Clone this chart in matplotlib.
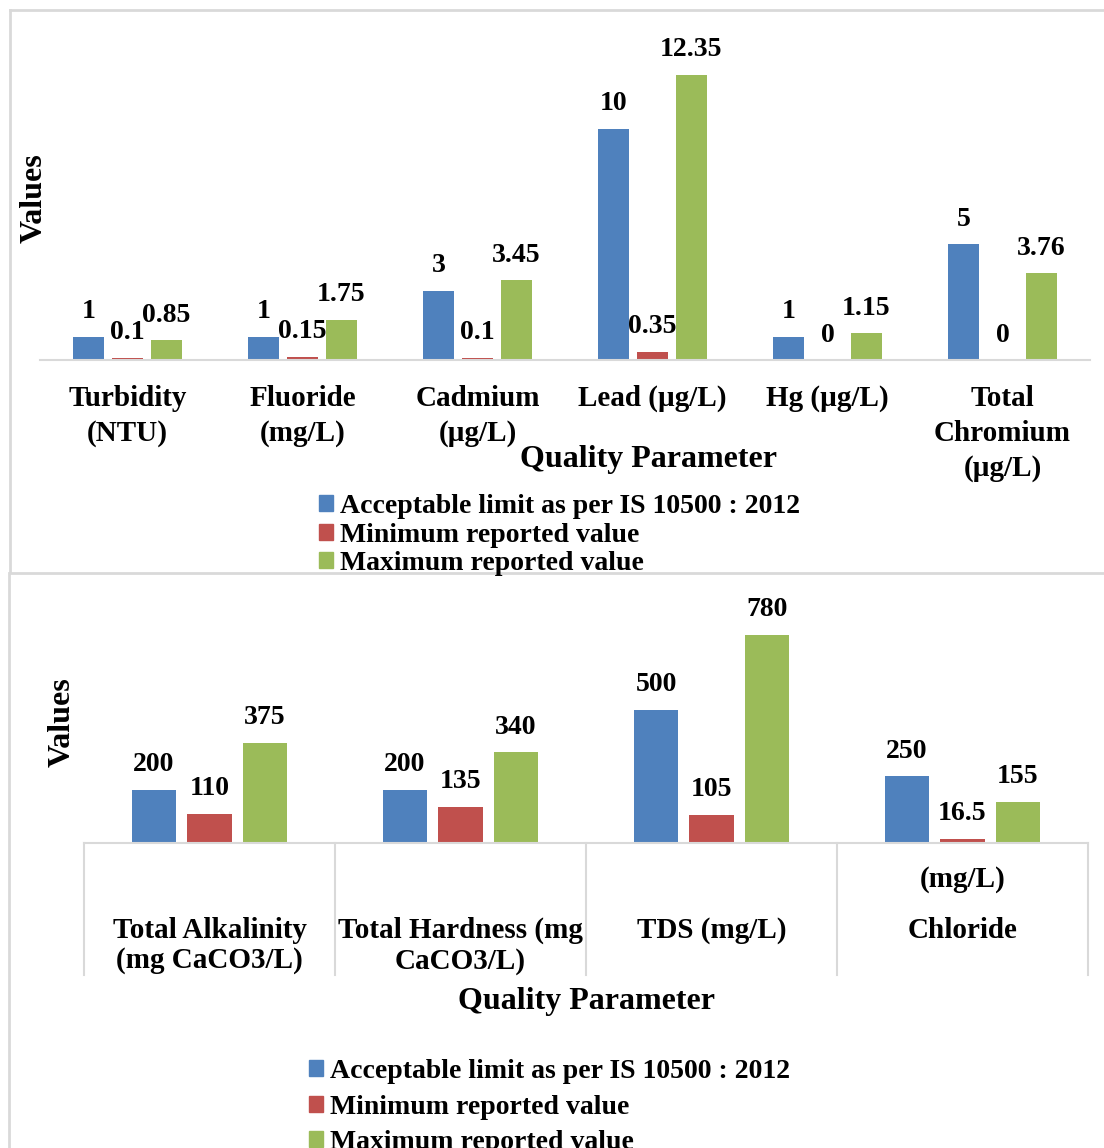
import matplotlib
matplotlib.use("Agg")
import matplotlib.pyplot as plt
from matplotlib.lines import Line2D
from matplotlib.patches import Patch
import numpy as np

plt.rcParams['font.family'] = ['Liberation Serif', 'DejaVu Serif']
plt.rcParams['font.weight'] = 'bold'

# top chart: trace metals and physical parameters
params_top = ['Turbidity\n(NTU)', 'Fluoride\n(mg/L)', 'Cadmium\n(µg/L)', 'Lead (µg/L)',
              'Hg (µg/L)', 'Total\nChromium\n(µg/L)']
limit_top = [1, 1, 3, 10, 1, 5]
min_top = [0.1, 0.15, 0.1, 0.35, 0, 0]
max_top = [0.85, 1.75, 3.45, 12.35, 1.15, 3.76]

# bottom chart: major ions / bulk parameters
params_bot = ['Total Alkalinity\n(mg CaCO3/L)', 'Total Hardness (mg\nCaCO3/L)', 'TDS (mg/L)', 'Chloride']
limit_bot = [200, 200, 500, 250]
min_bot = [110, 135, 105, 16.5]
max_bot = [375, 340, 780, 155]

series_names = ['Acceptable limit as per IS 10500 : 2012', 'Minimum reported value', 'Maximum reported value']
colors = ['#4F81BD', '#C0504D', '#9BBB59']
grid_c = '#d9d9d9'

W, H = 1104, 1148
fig = plt.figure(figsize=(W / 100, H / 100), dpi=100)

def fx(px):
    return px / W

def fy(py):
    return 1 - py / H

FS_VAL = 20    # data labels
FS_CAT = 21    # category labels
FS_LEG = 20
FS_TTL = 23    # axis titles
bw = 0.177
offs = [-0.221, 0, 0.221]

def draw_bars(ax, series, lab_off):
    x = np.arange(len(series[0]))
    for s, vals in enumerate(series):
        bars = ax.bar(x + offs[s], vals, width=bw, color=colors[s], linewidth=0)
        for b, v in zip(bars, vals):
            ax.annotate(f'{v:g}', (b.get_x() + b.get_width() / 2, v), xytext=(0, lab_off),
                        textcoords='offset pixels', ha='center', va='center', fontsize=FS_VAL)
    for sp in ['left', 'right', 'top']:
        ax.spines[sp].set_visible(False)
    ax.spines['bottom'].set_color(grid_c)
    ax.spines['bottom'].set_linewidth(1.5)
    ax.set_yticks([])
    ax.tick_params(axis='x', length=0)

handles = [Patch(color=c) for c in colors]

# ---- top chart
ax1 = fig.add_axes([fx(40), fy(360), fx(1050), 14 * 23.1 / H])
draw_bars(ax1, [limit_top, min_top, max_top], 25)
ax1.set_xlim(-0.5, 5.5)
ax1.set_ylim(0, 14)
ax1.set_xticks([])
tr1 = ax1.get_xaxis_transform()
px1 = 1 / (14 * 23.1)
for i, lab in enumerate(params_top):
    ax1.text(i, -25 * px1, lab, transform=tr1, ha='center', va='top',
             fontsize=FS_CAT, linespacing=1.38)
fig.text(fx(648), fy(460), 'Quality Parameter', ha='center', va='center', fontsize=FS_TTL)
fig.text(fx(34), fy(198), 'Values', ha='center', va='center', rotation=90, fontsize=FS_TTL)
fig.legend(handles, series_names, loc='center left', bbox_to_anchor=(fx(319), fy(535)),
           frameon=False, fontsize=FS_LEG, handlelength=0.5, handleheight=0.5, handletextpad=0.25,
           labelspacing=0.12, borderaxespad=0, borderpad=0)

# ---- bottom chart
ax2 = fig.add_axes([fx(84), fy(843), fx(1004), 900 * 0.2667 / H])
draw_bars(ax2, [limit_bot, min_bot, max_bot], 25)
ax2.set_xlim(-0.5, 3.5)
ax2.set_ylim(0, 900)
ax2.set_xticks([])
tr2 = ax2.get_xaxis_transform()
px2 = 1 / (900 * 0.2667)
# category divider lines below the axis
for b in np.arange(-0.5, 4, 1):
    ax2.plot([b, b], [0, -132 * px2], transform=tr2, color=grid_c, lw=1.5, clip_on=False)
for i, lab in enumerate(params_bot):
    ax2.text(i, -74 * px2, lab, transform=tr2, ha='center', va='top',
             fontsize=FS_CAT, linespacing=1.15)
ax2.text(3, -23 * px2, '(mg/L)', transform=tr2, ha='center', va='top', fontsize=FS_CAT)
fig.text(fx(587), fy(1001), 'Quality Parameter', ha='center', va='center', fontsize=FS_TTL)
fig.text(fx(62), fy(722), 'Values', ha='center', va='center', rotation=90, fontsize=FS_TTL)
fig.legend(handles, series_names, loc='center left', bbox_to_anchor=(fx(309), fy(1107)),
           frameon=False, fontsize=FS_LEG, handlelength=0.5, handleheight=0.5, handletextpad=0.25,
           labelspacing=0.38, borderaxespad=0, borderpad=0)

# panel frames
for xs, ys in [([fx(10), 1], [fy(10), fy(10)]), ([fx(10), fx(10)], [fy(10), fy(572)]),
               ([fx(10), 1], [fy(573), fy(573)]), ([fx(9), fx(9)], [fy(573), 0])]:
    fig.add_artist(Line2D(xs, ys, transform=fig.transFigure, color=grid_c, lw=2))

fig.savefig('out.png', dpi=100)
